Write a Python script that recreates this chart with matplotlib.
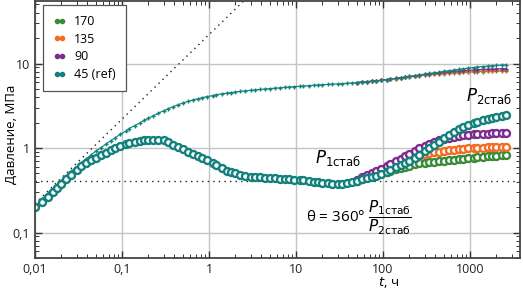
import matplotlib
matplotlib.use("Agg")
import matplotlib.pyplot as plt
from matplotlib.lines import Line2D

plt.rcParams["font.family"] = ["Open Sans", "DejaVu Sans"]

# ----- данные -----
# 45 (ref): давление и производная во всём диапазоне
t_ref = [0.010, 0.012, 0.014, 0.016, 0.018, 0.020, 0.023, 0.026, 0.030, 0.034,
         0.039, 0.044, 0.050, 0.057, 0.065, 0.074, 0.084, 0.095, 0.11, 0.12,
         0.14, 0.16, 0.18, 0.20, 0.23, 0.26, 0.30, 0.34, 0.39, 0.44,
         0.50, 0.57, 0.65, 0.74, 0.84, 0.95, 1.1, 1.2, 1.4, 1.6,
         1.8, 2.0, 2.3, 2.6, 3.0, 3.4, 3.9, 4.4, 5.0, 5.7,
         6.5, 7.4, 8.4, 9.5, 11, 12, 14, 16, 18, 20,
         23, 26, 30, 34, 39, 44, 50, 57, 65, 74,
         84, 95, 110, 120, 140, 160, 180, 200, 230, 260,
         300, 340, 390, 440, 500, 570, 650, 740, 840, 950,
         1100, 1200, 1400, 1600, 1800, 2000, 2300, 2600]
p_ref = [0.20, 0.25, 0.29, 0.33, 0.37, 0.41, 0.47, 0.53, 0.60, 0.67,
         0.75, 0.83, 0.92, 1.01, 1.11, 1.22, 1.33, 1.45, 1.58, 1.70,
         1.84, 1.98, 2.12, 2.25, 2.42, 2.58, 2.76, 2.93, 3.10, 3.26,
         3.41, 3.56, 3.70, 3.83, 3.96, 4.07, 4.18, 4.28, 4.38, 4.46,
         4.54, 4.61, 4.68, 4.75, 4.82, 4.88, 4.94, 5.00, 5.06, 5.11,
         5.17, 5.22, 5.28, 5.33, 5.38, 5.43, 5.48, 5.53, 5.58, 5.62,
         5.66, 5.71, 5.75, 5.80, 5.85, 5.90, 5.96, 6.03, 6.10, 6.18,
         6.26, 6.34, 6.44, 6.54, 6.66, 6.78, 6.91, 7.03, 7.18, 7.33,
         7.48, 7.63, 7.78, 7.93, 8.08, 8.23, 8.38, 8.53, 8.68, 8.83,
         8.98, 9.08, 9.23, 9.33, 9.43, 9.50, 9.58, 9.66]
d_ref = [0.20, 0.23, 0.26, 0.30, 0.34, 0.38, 0.43, 0.48, 0.55, 0.61,
         0.67, 0.72, 0.77, 0.83, 0.88, 0.95, 1.01, 1.06, 1.11, 1.15,
         1.18, 1.21, 1.23, 1.24, 1.25, 1.25, 1.23, 1.18, 1.10, 1.02,
         0.97, 0.91, 0.86, 0.81, 0.76, 0.72, 0.67, 0.63, 0.58, 0.54,
         0.52, 0.50, 0.48, 0.47, 0.46, 0.45, 0.45, 0.44, 0.44, 0.44,
         0.43, 0.43, 0.43, 0.42, 0.42, 0.42, 0.41, 0.40, 0.40, 0.39,
         0.39, 0.38, 0.38, 0.38, 0.39, 0.40, 0.41, 0.43, 0.44, 0.45,
         0.47, 0.49, 0.52, 0.55, 0.59, 0.63, 0.67, 0.71, 0.76, 0.82,
         0.92, 1.00, 1.10, 1.19, 1.30, 1.42, 1.54, 1.66, 1.77, 1.87,
         1.97, 2.04, 2.14, 2.22, 2.29, 2.34, 2.40, 2.45]

# поздние времена для 170 / 135 / 90
t_late = [50, 57, 65, 74, 84, 95, 110, 120, 140, 160,
          180, 200, 230, 260, 300, 340, 390, 440, 500, 570,
          650, 740, 840, 950, 1100, 1200, 1400, 1600, 1800, 2000,
          2300, 2600]
p_170 = [5.96, 6.03, 6.10, 6.18, 6.26, 6.34, 6.44, 6.54, 6.64, 6.74,
         6.84, 6.94, 7.05, 7.15, 7.27, 7.37, 7.46, 7.54, 7.62, 7.70,
         7.76, 7.82, 7.88, 7.93, 7.98, 8.01, 8.05, 8.09, 8.12, 8.15,
         8.18, 8.21]
p_135 = [5.96, 6.03, 6.10, 6.18, 6.26, 6.34, 6.44, 6.54, 6.65, 6.76,
         6.87, 6.97, 7.09, 7.20, 7.33, 7.43, 7.53, 7.62, 7.70, 7.79,
         7.86, 7.93, 7.99, 8.05, 8.10, 8.14, 8.19, 8.23, 8.27, 8.30,
         8.33, 8.36]
p_90 = [5.96, 6.03, 6.10, 6.18, 6.26, 6.35, 6.46, 6.57, 6.69, 6.81,
        6.92, 7.03, 7.16, 7.29, 7.43, 7.55, 7.67, 7.78, 7.89, 7.99,
        8.08, 8.17, 8.26, 8.33, 8.41, 8.46, 8.52, 8.58, 8.62, 8.66,
        8.70, 8.73]
d_170 = [0.41, 0.43, 0.45, 0.47, 0.49, 0.50, 0.52, 0.54, 0.56, 0.58,
         0.60, 0.62, 0.64, 0.66, 0.67, 0.68, 0.69, 0.70, 0.71, 0.72,
         0.73, 0.74, 0.75, 0.76, 0.77, 0.78, 0.79, 0.80, 0.81, 0.81,
         0.82, 0.83]
d_135 = [0.41, 0.43, 0.45, 0.47, 0.49, 0.51, 0.54, 0.57, 0.61, 0.65,
         0.69, 0.72, 0.76, 0.80, 0.84, 0.87, 0.89, 0.91, 0.93, 0.95,
         0.96, 0.97, 0.98, 0.99, 1.00, 1.01, 1.01, 1.02, 1.03, 1.03,
         1.04, 1.04]
d_90 = [0.42, 0.45, 0.48, 0.51, 0.54, 0.57, 0.61, 0.65, 0.70, 0.75,
        0.80, 0.86, 0.93, 1.00, 1.07, 1.13, 1.19, 1.24, 1.29, 1.33,
        1.36, 1.39, 1.41, 1.43, 1.45, 1.46, 1.47, 1.48, 1.49, 1.50,
        1.51, 1.52]

# вспомогательные пунктирные линии
unit_t = [0.01, 2.5]
unit_p = [0.22, 55]
stab_t = [0.01, 3750]
stab_p = [0.41, 0.41]

x_ticks = [0.01, 0.1, 1, 10, 100, 1000]
x_labels = ["0,01", "0,1", "1", "10", "100", "1000"]
y_ticks = [0.1, 1, 10]
y_labels = ["0,1", "1", "10"]

labels = ["170", "135", "90", "45 (ref)"]
colors = ["#3b8a3a", "#f26c22", "#7b2d8e", "#12817c"]

W, H = 523, 292


def px(x, y):
    """пиксели картинки (от левого верхнего угла) -> доли фигуры"""
    return x / W, 1 - y / H


# ----- график -----
fig = plt.figure(figsize=(W / 100, H / 100), dpi=100)
ax = fig.add_axes([35 / W, 34 / H, 485 / W, 257 / H])
ax.set_xscale("log")
ax.set_yscale("log")
ax.set_xlim(0.01, 3750)
ax.set_ylim(0.05, 55)

ax.grid(True, which="major", color="#c4c4c4", lw=1.0)
ax.set_axisbelow(True)

ax.plot(unit_t, unit_p, ls=(0, (1, 3)), color="#222222", lw=1.0)
ax.plot(stab_t, stab_p, ls=(0, (1, 3)), color="#222222", lw=1.0)

late = [(p_170, d_170), (p_135, d_135), (p_90, d_90)]
for (p, d), c in zip(late, colors[:3]):
    ax.plot(t_late, p, ls="-", lw=0.8, marker="+", ms=3.5, mew=1.0, color=c)
    ax.plot(t_late, d, ls="none", marker="o", ms=5, mew=1.7,
            mfc="white", mec=c)

ax.plot(t_ref, p_ref, ls="-", lw=0.8, marker="+", ms=3.5, mew=1.0,
        color=colors[3])
ax.plot(t_ref, d_ref, ls="none", marker="o", ms=5, mew=1.7,
        mfc="white", mec=colors[3])

ax.set_xticks(x_ticks, x_labels)
ax.set_yticks(y_ticks, y_labels)
ax.tick_params(which="both", direction="in", top=True, right=True,
               labelsize=9, colors="#333333", labelcolor="#222222")
ax.tick_params(which="major", length=5, width=1.0)
ax.tick_params(which="minor", length=3, width=0.7)
for s in ax.spines.values():
    s.set_color("#444444")
    s.set_linewidth(1.3)

ax.set_ylabel("Давление, МПа", fontsize=9.5)
ax.yaxis.set_label_coords(-0.036, 0.48)
ax.set_xlabel("$t$, ч", fontsize=9.5)
ax.xaxis.set_label_coords(0.728, -0.065)

handles = [Line2D([], [], ls="none", marker="o", ms=3, color=c) for c in colors]
leg = ax.legend(handles, labels, loc="upper left",
                bbox_to_anchor=(8 / 485, 1 - 4 / 257), borderaxespad=0,
                numpoints=2, fontsize=9, handlelength=1.0, handletextpad=0.7,
                labelspacing=0.38, borderpad=0.8, fancybox=False,
                framealpha=1, edgecolor="#555555")
leg.get_frame().set_linewidth(0.9)
ax.text(*px(108, 17), "θ", transform=fig.transFigure, fontsize=13,
        family="DejaVu Serif", ha="center", va="center")

ax.text(*px(315, 158), r"$P_{\mathrm{1стаб}}$", fontsize=12,
        transform=fig.transFigure, va="center")
ax.text(*px(466, 96), r"$P_{\mathrm{2стаб}}$", fontsize=12,
        transform=fig.transFigure, va="center")
ax.text(*px(306, 218),
        r"θ = 360° $\dfrac{P_{\mathrm{1стаб}}}{P_{\mathrm{2стаб}}}$",
        fontsize=11, transform=fig.transFigure, va="center")

fig.savefig("out.png", dpi=100)
